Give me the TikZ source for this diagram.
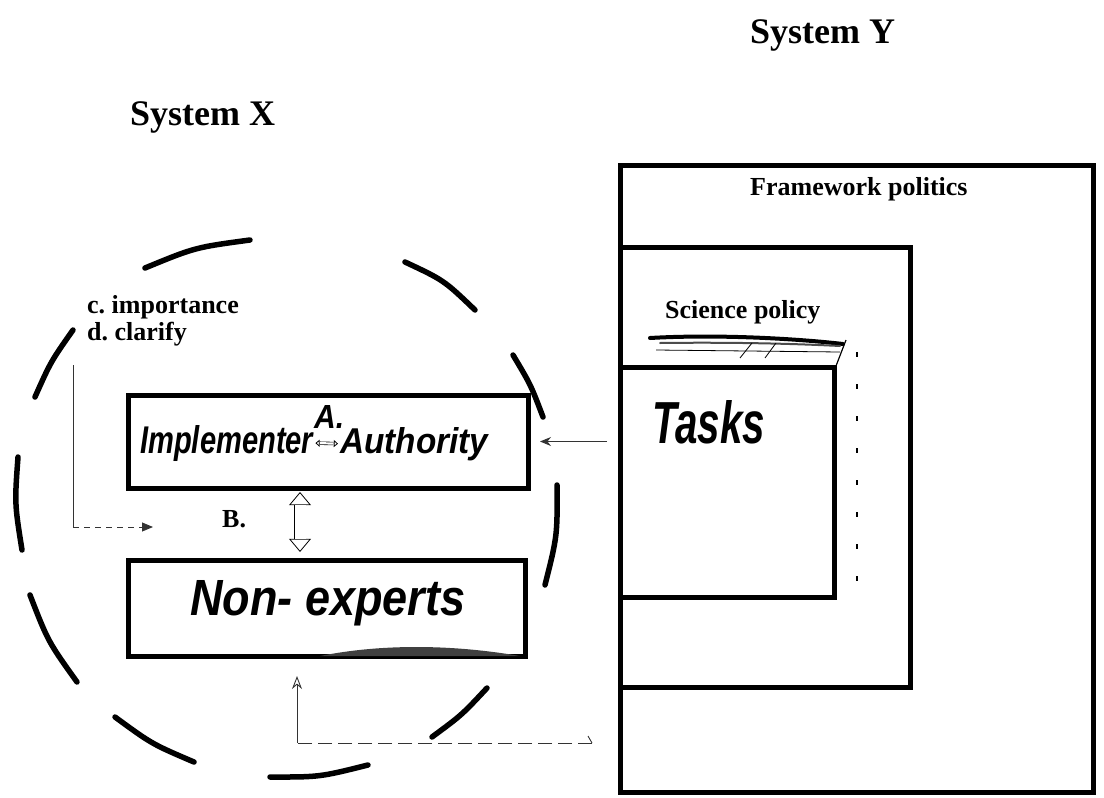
\documentclass[tikz,border=0pt]{standalone}
\usepackage{fontspec}
\setmainfont{Liberation Serif}
\newfontfamily\handfont{Liberation Sans}
\usepackage{graphicx}
\usetikzlibrary{arrows.meta}
\begin{document}
\begin{tikzpicture}[x=1pt,y=-1pt,
  box/.style={draw, line width=5pt, inner sep=0pt, outer sep=0pt},
  title/.style={inner sep=0pt, anchor=base west, font=\fontsize{36}{40}\selectfont\bfseries},
  lbl/.style={inner sep=0pt, anchor=base west, font=\fontsize{26}{28}\selectfont\bfseries},
  hand/.style={inner sep=0pt, anchor=base west, font=\handfont\bfseries\itshape},
  cdash/.style={line width=5.5pt, line cap=round},
  conn/.style={line width=0.9pt, black!80},
  hollowtips/.style={line width=0.8pt, {Triangle[open,width=#1,length=0.6*#1]}-{Triangle[open,width=#1,length=0.6*#1]}},
]
\useasboundingbox (0,0) rectangle (1104,798);

% System Y boxes
\node[box, minimum width=473pt, minimum height=627pt] (outer) at (856.5,478.5) {};
\node[box, minimum width=290pt, minimum height=440pt] (sci) at (765,467) {};
\node[box, minimum width=214pt, minimum height=230pt] (tasks) at (727,482) {};

% System X boxes
\node[box, minimum width=400pt, minimum height=93pt] (impl) at (328,441.5) {};
\node[box, minimum width=397pt, minimum height=96pt] (nonexp) at (326.5,608) {};
\fill[black!75] (320,656) .. controls (380,644) and (450,644) .. (520,656) -- cycle;

% texts
\node[title] (sysY) at (750,43) {System Y};
\node[title] (sysX) at (130,125) {System X};
\node[lbl] (fw) at (750,195) {Framework politics};
\node[lbl] (sp) at (665,318) {Science policy};
\node[lbl] (ci) at (87,313) {c.\ importance};
\node[lbl] (dc) at (87,340) {d.\ clarify};
\node[lbl] (B) at (222,527) {B.};
\node[hand] (tasksT) at (652,443) {\resizebox{113pt}{43pt}{Tasks}};
\node[hand] (implT) at (140,453) {\resizebox{173pt}{28pt}{Implementer}};
\node[hand] (authT) at (340,453) {\resizebox{148pt}{26pt}{Authority}};
\node[hand] (A) at (314,428) {\resizebox{30pt}{23pt}{A.}};
\node[hand] (neT) at (190,615) {\resizebox{275pt}{35pt}{Non- experts}};

% scribble above Tasks
\draw[line width=4pt, line cap=round] (650,338) .. controls (720,334) and (800,339) .. (843,344);
\draw[line width=2pt, black!70, line cap=round] (660,343) .. controls (740,342) and (800,344) .. (840,346);
\draw[line width=0.8pt] (656,350) -- (840,352);
\draw[line width=0.8pt] (740,358) -- (752,343);
\draw[line width=0.8pt] (765,358) -- (776,343);
\draw[line width=1.2pt] (846,340) -- (836,366);
% dotted line right of Tasks
\draw[line width=1.8pt, dash pattern=on 5pt off 27pt] (857,352) -- (857,592);

% dashed circle (hand drawn)
\draw[cdash] (145,268) .. controls (195,247.4) .. (250,240);
\draw[cdash] (405,262) .. controls (444,280.3) .. (475,310);
\draw[cdash] (513,355) .. controls (530.7,384.7) .. (543,417);
\draw[cdash] (557,485) .. controls (557.4,535.7) .. (545,585);
\draw[cdash] (487,688) .. controls (461.7,715.1) .. (432,737);
\draw[cdash] (368,765) .. controls (319.7,777.1) .. (270,777);
\draw[cdash] (194,762) .. controls (151.9,744) .. (115,717);
\draw[cdash] (77,682) .. controls (48.1,641.6) .. (30,595);
\draw[cdash] (22,550) .. controls (14.6,503.5) .. (18,457);
\draw[cdash] (35,397) .. controls (50.8,361.6) .. (73,330);

% A arrow (small hollow double arrow)
\draw[hollowtips=7pt, shorten <=2pt, shorten >=2pt] (implT.east) -- (authT.west);
\draw[line width=0.6pt, double distance=2.2pt, shorten <=6.5pt, shorten >=6.5pt] (implT.east) -- (authT.west);
% B arrow (hollow double arrow)
\draw[hollowtips=22pt, shorten <=4pt, shorten >=8pt] ([xshift=-28pt]impl.south) -- ([xshift=-26.5pt]nonexp.north);
\draw[line width=0.8pt, double distance=11pt, shorten <=17pt, shorten >=21pt] ([xshift=-28pt]impl.south) -- ([xshift=-26.5pt]nonexp.north);

% Tasks -> Implementer/Authority
\draw[conn, -{Stealth[length=11pt,width=9pt]}, shorten <=13pt, shorten >=12pt] (impl.east -| tasks.west) -- (impl.east);

% bottom connector
\coordinate (bstart) at (592,743);
\coordinate (bcorner) at (297,743);
\draw[conn] (bstart) -- ++(-4,-7);
\draw[conn, dash pattern=on 14pt off 6pt] (bstart) -- (bcorner);
\draw[conn, -{Stealth[open,length=13pt,width=10pt]}, shorten >=20pt] (bcorner) -- (bcorner |- nonexp.south);

% left connector
\coordinate (lstart) at (73,365);
\coordinate (lcorner) at (73,527);
\coordinate (lend) at (153,527);
\draw[conn] (lstart) -- (lcorner);
\draw[conn, dash pattern=on 6pt off 5pt, -{Triangle[length=11pt,width=9pt]}] (lcorner) -- (lend);
\end{tikzpicture}
\end{document}
